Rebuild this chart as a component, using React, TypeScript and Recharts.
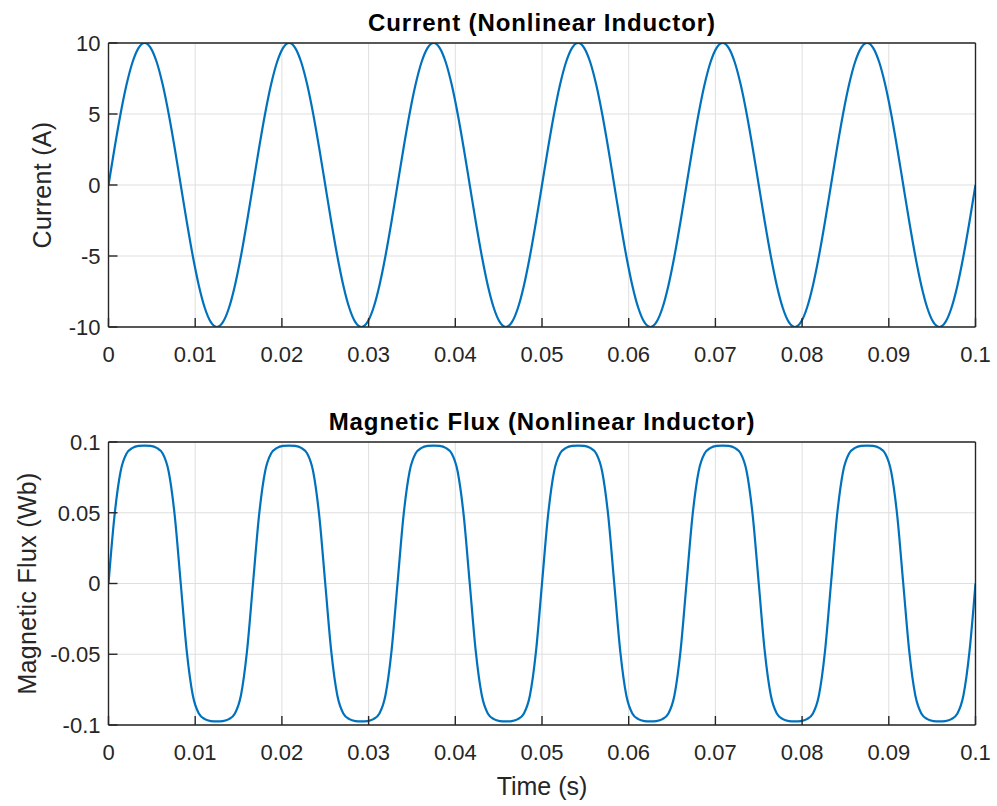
import React from "react";
import { LineChart, Line, XAxis, YAxis, CartesianGrid } from "recharts";

// Time samples (s)
const time = [
  0, 0.000694, 0.001389, 0.002083, 0.002778, 0.003472, 0.004167, 0.004861, 0.005556, 0.00625, 0.006944, 0.007639,
  0.008333, 0.009028, 0.009722, 0.010417, 0.011111, 0.011806, 0.0125, 0.013194, 0.013889, 0.014583, 0.015278, 0.015972,
  0.016667, 0.017361, 0.018056, 0.01875, 0.019444, 0.020139, 0.020833, 0.021528, 0.022222, 0.022917, 0.023611, 0.024306,
  0.025, 0.025694, 0.026389, 0.027083, 0.027778, 0.028472, 0.029167, 0.029861, 0.030556, 0.03125, 0.031944, 0.032639,
  0.033333, 0.034028, 0.034722, 0.035417, 0.036111, 0.036806, 0.0375, 0.038194, 0.038889, 0.039583, 0.040278, 0.040972,
  0.041667, 0.042361, 0.043056, 0.04375, 0.044444, 0.045139, 0.045833, 0.046528, 0.047222, 0.047917, 0.048611, 0.049306,
  0.05, 0.050694, 0.051389, 0.052083, 0.052778, 0.053472, 0.054167, 0.054861, 0.055556, 0.05625, 0.056944, 0.057639,
  0.058333, 0.059028, 0.059722, 0.060417, 0.061111, 0.061806, 0.0625, 0.063194, 0.063889, 0.064583, 0.065278, 0.065972,
  0.066667, 0.067361, 0.068056, 0.06875, 0.069444, 0.070139, 0.070833, 0.071528, 0.072222, 0.072917, 0.073611, 0.074306,
  0.075, 0.075694, 0.076389, 0.077083, 0.077778, 0.078472, 0.079167, 0.079861, 0.080556, 0.08125, 0.081944, 0.082639,
  0.083333, 0.084028, 0.084722, 0.085417, 0.086111, 0.086806, 0.0875, 0.088194, 0.088889, 0.089583, 0.090278, 0.090972,
  0.091667, 0.092361, 0.093056, 0.09375, 0.094444, 0.095139, 0.095833, 0.096528, 0.097222, 0.097917, 0.098611, 0.099306,
  0.1,
];

// Current (A)
const current = [
  0, 2.59, 5, 7.07, 8.66, 9.66, 10, 9.66, 8.66, 7.07, 5, 2.59, 0, -2.59, -5, -7.07, -8.66, -9.66, -10, -9.66, -8.66, -7.07, -5, -2.59,
  0, 2.59, 5, 7.07, 8.66, 9.66, 10, 9.66, 8.66, 7.07, 5, 2.59, 0, -2.59, -5, -7.07, -8.66, -9.66, -10, -9.66, -8.66, -7.07, -5, -2.59,
  0, 2.59, 5, 7.07, 8.66, 9.66, 10, 9.66, 8.66, 7.07, 5, 2.59, 0, -2.59, -5, -7.07, -8.66, -9.66, -10, -9.66, -8.66, -7.07, -5, -2.59,
  0, 2.59, 5, 7.07, 8.66, 9.66, 10, 9.66, 8.66, 7.07, 5, 2.59, 0, -2.59, -5, -7.07, -8.66, -9.66, -10, -9.66, -8.66, -7.07, -5, -2.59,
  0, 2.59, 5, 7.07, 8.66, 9.66, 10, 9.66, 8.66, 7.07, 5, 2.59, 0, -2.59, -5, -7.07, -8.66, -9.66, -10, -9.66, -8.66, -7.07, -5, -2.59,
  0, 2.59, 5, 7.07, 8.66, 9.66, 10, 9.66, 8.66, 7.07, 5, 2.59, 0, -2.59, -5, -7.07, -8.66, -9.66, -10, -9.66, -8.66, -7.07, -5, -2.59,
  0,
];

// Magnetic flux (Wb)
const flux = [
  0, 0.048, 0.079, 0.0918, 0.0958, 0.0972, 0.0975, 0.0972, 0.0958, 0.0918, 0.079, 0.048, 0, -0.048, -0.079, -0.0918, -0.0958, -0.0972, -0.0975, -0.0972, -0.0958, -0.0918, -0.079, -0.048,
  0, 0.048, 0.079, 0.0918, 0.0958, 0.0972, 0.0975, 0.0972, 0.0958, 0.0918, 0.079, 0.048, 0, -0.048, -0.079, -0.0918, -0.0958, -0.0972, -0.0975, -0.0972, -0.0958, -0.0918, -0.079, -0.048,
  0, 0.048, 0.079, 0.0918, 0.0958, 0.0972, 0.0975, 0.0972, 0.0958, 0.0918, 0.079, 0.048, 0, -0.048, -0.079, -0.0918, -0.0958, -0.0972, -0.0975, -0.0972, -0.0958, -0.0918, -0.079, -0.048,
  0, 0.048, 0.079, 0.0918, 0.0958, 0.0972, 0.0975, 0.0972, 0.0958, 0.0918, 0.079, 0.048, 0, -0.048, -0.079, -0.0918, -0.0958, -0.0972, -0.0975, -0.0972, -0.0958, -0.0918, -0.079, -0.048,
  0, 0.048, 0.079, 0.0918, 0.0958, 0.0972, 0.0975, 0.0972, 0.0958, 0.0918, 0.079, 0.048, 0, -0.048, -0.079, -0.0918, -0.0958, -0.0972, -0.0975, -0.0972, -0.0958, -0.0918, -0.079, -0.048,
  0, 0.048, 0.079, 0.0918, 0.0958, 0.0972, 0.0975, 0.0972, 0.0958, 0.0918, 0.079, 0.048, 0, -0.048, -0.079, -0.0918, -0.0958, -0.0972, -0.0975, -0.0972, -0.0958, -0.0918, -0.079, -0.048,
  0,
];

const xTicks = [0, 0.01, 0.02, 0.03, 0.04, 0.05, 0.06, 0.07, 0.08, 0.09, 0.1];
const currentTicks = [-10, -5, 0, 5, 10];
const fluxTicks = [-0.1, -0.05, 0, 0.05, 0.1];

const titles = ["Current (Nonlinear Inductor)", "Magnetic Flux (Nonlinear Inductor)"];
const yLabels = ["Current (A)", "Magnetic Flux (Wb)"];
const xLabel = "Time (s)";

const rows = time.map((t, k) => ({ t, i: current[k], phi: flux[k] }));

const FONT = "'Liberation Sans', Arial, Helvetica, sans-serif";
const AX = "#262626";
const LINE = "#0072BD";
const GRID = "#dfdfdf";
const tickStyle = { fontSize: 22, fill: AX, fontFamily: FONT };

type PanelProps = {
  dataKey: string;
  yDomain: [number, number];
  yTicks: number[];
  marginTop: number;
  xHeight: number;
};

function Panel({ dataKey, yDomain, yTicks, marginTop, xHeight }: PanelProps) {
  return (
    <LineChart
      width={997}
      height={403}
      data={rows}
      margin={{ top: marginTop, right: 20.5, bottom: 0, left: 0 }}
    >
      <CartesianGrid xAxisId="b" yAxisId="l" stroke={GRID} strokeWidth={1} />
      <XAxis
        xAxisId="b"
        dataKey="t"
        type="number"
        domain={[0, 0.1]}
        ticks={xTicks}
        interval={0}
        allowDataOverflow
        height={xHeight}
        tickSize={-9}
        tickMargin={28}
        tick={tickStyle}
        tickFormatter={(v: number) => String(v)}
        axisLine={{ stroke: AX, strokeWidth: 1.4 }}
        tickLine={{ stroke: AX, strokeWidth: 1.4 }}
      />
      <XAxis
        xAxisId="t"
        orientation="top"
        dataKey="t"
        type="number"
        domain={[0, 0.1]}
        ticks={xTicks}
        interval={0}
        allowDataOverflow
        height={1}
        tickSize={-9}
        tick={false}
        axisLine={{ stroke: AX, strokeWidth: 1.4 }}
        tickLine={{ stroke: AX, strokeWidth: 1.4 }}
      />
      <YAxis
        yAxisId="l"
        type="number"
        domain={yDomain}
        ticks={yTicks}
        interval={0}
        allowDataOverflow
        width={108.5}
        tickSize={-9}
        tickMargin={17}
        tick={tickStyle}
        tickFormatter={(v: number) => String(v)}
        axisLine={{ stroke: AX, strokeWidth: 1.4 }}
        tickLine={{ stroke: AX, strokeWidth: 1.4 }}
      />
      <YAxis
        yAxisId="r"
        orientation="right"
        type="number"
        domain={yDomain}
        ticks={yTicks}
        interval={0}
        allowDataOverflow
        width={1}
        tickSize={-9}
        tick={false}
        axisLine={{ stroke: AX, strokeWidth: 1.4 }}
        tickLine={{ stroke: AX, strokeWidth: 1.4 }}
      />
      <Line
        xAxisId="b"
        yAxisId="l"
        type="monotone"
        dataKey={dataKey}
        stroke={LINE}
        strokeWidth={2.2}
        dot={false}
        activeDot={false}
        isAnimationActive={false}
      />
    </LineChart>
  );
}

export default function App() {
  return (
    <div style={{ position: "absolute", left: 0, top: 0, width: 997, height: 806, background: "#fff" }}>
      <div style={{ position: "absolute", left: 0, top: 0 }}>
        <Panel dataKey="i" yDomain={[-10, 10]} yTicks={currentTicks} marginTop={42} xHeight={76} />
      </div>
      <div style={{ position: "absolute", left: 0, top: 403 }}>
        <Panel dataKey="phi" yDomain={[-0.1, 0.1]} yTicks={fluxTicks} marginTop={38} xHeight={81} />
      </div>
      <svg
        width={997}
        height={806}
        style={{ position: "absolute", left: 0, top: 0, pointerEvents: "none" }}
      >
        <text x={542} y={31} textAnchor="middle" fontFamily={FONT} fontWeight="bold" fontSize={24} letterSpacing={0.9} fill="#000">
          {titles[0]}
        </text>
        <text x={542} y={430} textAnchor="middle" fontFamily={FONT} fontWeight="bold" fontSize={24} letterSpacing={0.9} fill="#000">
          {titles[1]}
        </text>
        <text
          transform="translate(51,185) rotate(-90)"
          textAnchor="middle"
          fontFamily={FONT}
          fontSize={25}
          letterSpacing={0.3}
          fill={AX}
        >
          {yLabels[0]}
        </text>
        <text
          transform="translate(36,583.5) rotate(-90)"
          textAnchor="middle"
          fontFamily={FONT}
          fontSize={25}
          letterSpacing={0.3}
          fill={AX}
        >
          {yLabels[1]}
        </text>
        <text x={542} y={795} textAnchor="middle" fontFamily={FONT} fontSize={25} fill={AX}>
          {xLabel}
        </text>
      </svg>
    </div>
  );
}
